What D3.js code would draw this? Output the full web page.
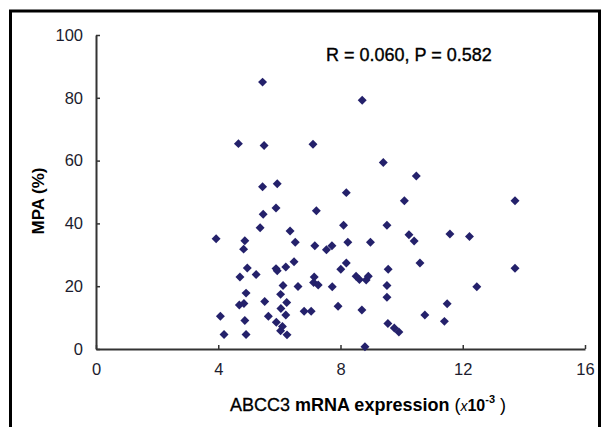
<!DOCTYPE html>
<html>
<head>
<meta charset="utf-8">
<script src="https://cdn.jsdelivr.net/npm/d3@7"></script>
<style>
  body { margin: 0; background: #fff; }
  svg { display: block; font-family: Arial, "Liberation Sans", sans-serif; }
</style>
</head>
<body>
<div id="chart"></div>
<script>
// ABCC3 mRNA expression (x10^-3)
const expression = [
  3.93, 4.07, 4.19, 4.66, 4.71, 4.69, 4.84, 4.87, 4.83, 4.95, 4.91, 4.87, 4.91,
  5.24, 5.37, 5.45, 5.50, 5.45, 5.47, 5.52, 5.64, 5.89, 5.93, 5.90, 5.89, 5.93,
  6.04, 6.05, 6.04, 6.12, 6.21, 6.24, 6.21, 6.10, 6.25, 6.35, 6.52, 6.48, 6.61,
  6.81, 7.04, 7.10, 7.14, 7.16, 7.21, 7.12, 7.27, 7.54, 7.72, 7.73, 7.92, 8.01,
  8.10, 8.19, 8.19, 8.24, 8.51, 8.62, 8.70, 8.71, 8.80, 8.84, 8.91, 8.98, 9.40,
  9.52, 9.56, 9.52, 9.52, 9.55, 9.76, 9.91, 10.09, 10.24, 10.41, 10.48, 10.60,
  10.76, 11.40, 11.49, 11.58, 12.22, 12.46, 13.71, 13.71
];
// MPA (%)
const mpa = [
  35.1, 10.4, 4.6, 65.4, 22.9, 14.0, 14.5, 34.5, 31.8, 25.8, 17.8, 9.1, 4.6,
  23.7, 38.6, 85.0, 64.8, 51.7, 42.9, 15.1, 10.4, 44.9, 52.6, 8.5, 25.6, 24.9,
  17.4, 12.9, 5.8, 20.2, 26.1, 14.8, 10.8, 7.2, 4.5, 37.6, 34.0, 27.8, 19.9,
  12.0, 12.0, 65.2, 22.9, 32.9, 44.0, 21.2, 20.4, 31.6, 32.9, 19.8, 13.6, 25.4,
  39.4, 49.8, 27.4, 34.0, 23.2, 22.1, 12.4, 79.2, 0.7, 22.0, 23.2, 34.0, 59.4,
  39.4, 25.4, 20.2, 16.5, 8.1, 6.7, 5.4, 47.2, 36.4, 34.4, 55.1, 27.4,
  10.8, 8.8, 14.4, 36.6, 35.8, 19.8, 47.2, 25.7
];
const xTicks = [0, 4, 8, 12, 16];
const yTicks = [0, 20, 40, 60, 80, 100];
const statsLabel = "R = 0.060, P = 0.582";

const points = expression.map((v, i) => ({ x: v, y: mpa[i] }));

const W = 603, H = 427;
const svg = d3.select("#chart").append("svg")
  .attr("width", W)
  .attr("height", H);

// frame round the figure (no bottom edge, it is cut off)
svg.append("path")
  .attr("d", `M10.5,${H} V11 H599.5 V${H}`)
  .attr("fill", "none")
  .attr("stroke", "#000")
  .attr("stroke-width", 3);

const x = d3.scaleLinear().domain([0, 16]).range([96, 585]);
const y = d3.scaleLinear().domain([0, 100]).range([349, 35]);

const axisColor = "#333";

const gx = svg.append("g")
  .attr("transform", `translate(0,${y(0)})`)
  .call(d3.axisBottom(x).tickValues(xTicks).tickSizeInner(-4).tickSizeOuter(0).tickPadding(14));

const gy = svg.append("g")
  .attr("transform", `translate(${x(0)},0)`)
  .call(d3.axisLeft(y).tickValues(yTicks).tickSizeInner(-4).tickSizeOuter(0).tickPadding(13));

[gx, gy].forEach(g => {
  g.select(".domain").attr("stroke", axisColor).attr("stroke-width", 2);
  g.selectAll(".tick line").attr("stroke", axisColor).attr("stroke-width", 1.5);
  g.selectAll(".tick text")
    .attr("fill", "#1c1c2e")
    .style("font-size", "16.5px")
    .style("font-family", "Arial, 'Liberation Sans', sans-serif");
});

// diamonds
const diamond = d3.symbol().type(d3.symbolSquare).size(40);
svg.append("g")
  .selectAll("path")
  .data(points)
  .join("path")
  .attr("d", diamond)
  .attr("transform", d => `translate(${x(d.x)},${y(d.y)}) rotate(45)`)
  .attr("fill", "#24216b");

// correlation note
svg.append("text")
  .attr("x", 326)
  .attr("y", 61)
  .style("font-size", "18px")
  .attr("fill", "#000")
  .attr("stroke", "#000")
  .attr("stroke-width", 0.35)
  .text(statsLabel);

// y title
svg.append("text")
  .attr("transform", "translate(44,201) rotate(-90)")
  .attr("text-anchor", "middle")
  .style("font-size", "17px")
  .style("font-weight", "bold")
  .attr("fill", "#000")
  .text("MPA (%)");

// x title, mixed styles like the original
const xt = svg.append("text")
  .attr("x", 230)
  .attr("y", 411)
  .style("font-size", "18px")
  .attr("fill", "#000");
xt.append("tspan").attr("stroke", "#000").attr("stroke-width", 0.3).text("ABCC3 ");
xt.append("tspan").style("font-weight", "bold").text("mRNA expression");
xt.append("tspan").text(" (");
xt.append("tspan").style("font-style", "italic").style("font-size", "14px").text("x");
xt.append("tspan").style("font-weight", "bold").style("font-size", "16px").text("10");
xt.append("tspan").style("font-size", "11px").style("font-weight", "bold").attr("dy", -8).text("-3");
xt.append("tspan").attr("dy", 8).text("  )");
</script>
</body>
</html>
